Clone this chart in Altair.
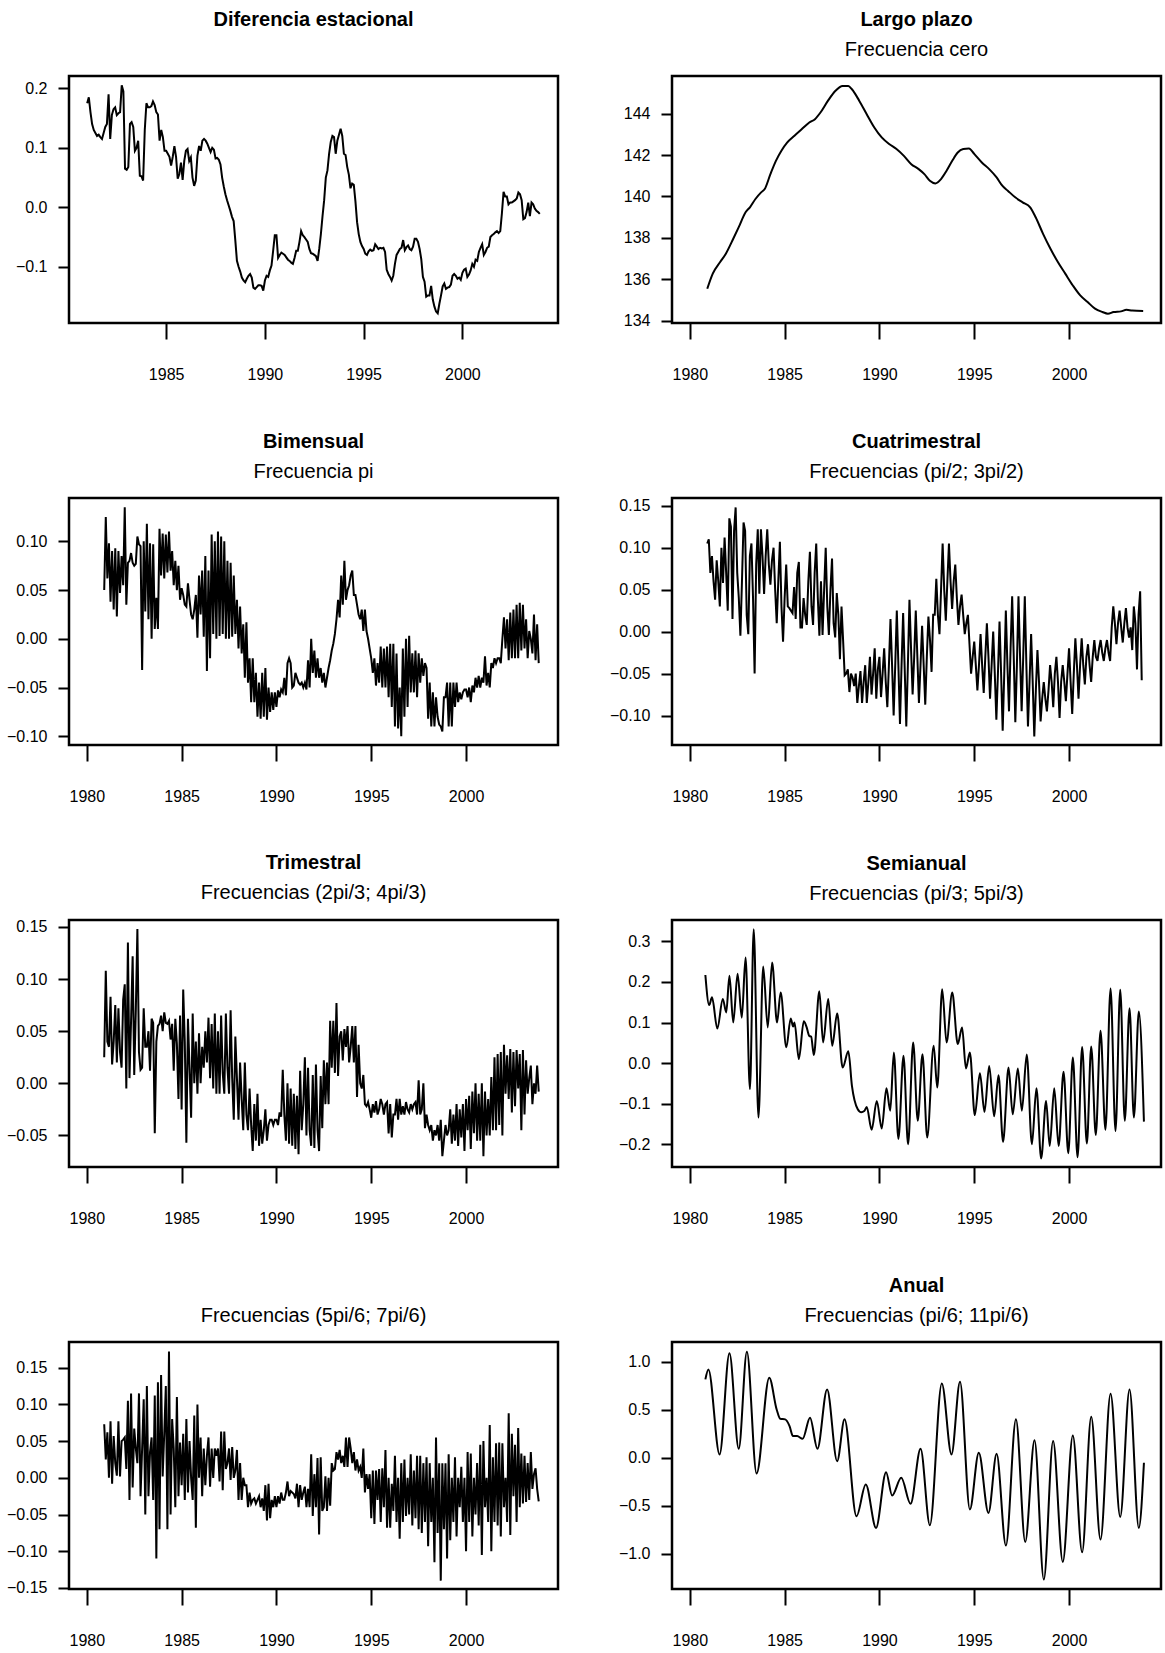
import altair as alt
import pandas as pd

FONT = "Liberation Sans, Arial, Helvetica, sans-serif"

# Monthly series: first observation of each one, in decimal years
START_DIFF = 1981.0
START_FILT = 1980 + 11 / 12

# Seasonal difference of the log series, Jan 1981 - Dec 2003
DIF_EST = [
    0.175, 0.185, 0.160, 0.140, 0.130, 0.125, 0.120, 0.122, 0.118, 0.115, 0.125, 0.135,
    0.140, 0.190, 0.115, 0.155, 0.165, 0.168, 0.155, 0.158, 0.160, 0.205, 0.195, 0.065,
    0.063, 0.068, 0.140, 0.143, 0.135, 0.095, 0.100, 0.112, 0.053, 0.052, 0.045, 0.130,
    0.175, 0.168, 0.168, 0.170, 0.178, 0.172, 0.160, 0.156, 0.112, 0.130, 0.118, 0.095,
    0.095, 0.090, 0.085, 0.070, 0.085, 0.103, 0.085, 0.048, 0.056, 0.075, 0.046, 0.078,
    0.095, 0.098, 0.078, 0.084, 0.050, 0.036, 0.045, 0.087, 0.103, 0.095, 0.112, 0.115,
    0.112, 0.107, 0.100, 0.093, 0.100, 0.097, 0.082, 0.083, 0.080, 0.072, 0.050, 0.035,
    0.022, 0.012, 0.003, -0.006, -0.016, -0.023, -0.055, -0.090, -0.100, -0.108, -0.118, -0.123,
    -0.126, -0.120, -0.115, -0.112, -0.118, -0.135, -0.137, -0.134, -0.131, -0.131, -0.132, -0.140,
    -0.123, -0.115, -0.117, -0.106, -0.098, -0.073, -0.047, -0.047, -0.085, -0.080, -0.076, -0.078,
    -0.080, -0.084, -0.088, -0.090, -0.093, -0.095, -0.085, -0.073, -0.073, -0.058, -0.040, -0.047,
    -0.050, -0.054, -0.058, -0.070, -0.077, -0.078, -0.080, -0.082, -0.090, -0.070, -0.045, -0.015,
    0.012, 0.050, 0.062, 0.090, 0.110, 0.120, 0.118, 0.090, 0.112, 0.122, 0.132, 0.120,
    0.090, 0.088, 0.068, 0.055, 0.032, 0.040, 0.038, 0.010, -0.025, -0.045, -0.058, -0.065,
    -0.070, -0.078, -0.080, -0.074, -0.071, -0.073, -0.072, -0.062, -0.066, -0.070, -0.068, -0.069,
    -0.068, -0.075, -0.105, -0.112, -0.117, -0.123, -0.115, -0.095, -0.080, -0.075, -0.070, -0.068,
    -0.055, -0.072, -0.067, -0.064, -0.070, -0.072, -0.066, -0.053, -0.053, -0.058, -0.070, -0.087,
    -0.117, -0.125, -0.150, -0.148, -0.148, -0.132, -0.155, -0.167, -0.175, -0.178, -0.162, -0.148,
    -0.133, -0.128, -0.137, -0.135, -0.134, -0.130, -0.115, -0.112, -0.115, -0.120, -0.118, -0.122,
    -0.110, -0.105, -0.103, -0.117, -0.113, -0.106, -0.095, -0.100, -0.088, -0.090, -0.075, -0.068,
    -0.062, -0.080, -0.075, -0.068, -0.066, -0.050, -0.047, -0.045, -0.042, -0.040, -0.043, -0.040,
    -0.010, 0.026, 0.018, 0.018, 0.005, 0.008, 0.008, 0.010, 0.012, 0.015, 0.025, 0.022,
    0.012, -0.020, -0.018, -0.008, 0.008, -0.015, 0.008, 0.005, -0.002, -0.006, -0.008, -0.011,
]

# Long-run component (frequency zero): (year, level)
LARGO_PLAZO = [
    (1980.92, 135.55), (1981.21, 136.28), (1981.60, 136.84), (1981.90, 137.24),
    (1982.29, 137.96), (1982.58, 138.52), (1982.94, 139.24), (1983.17, 139.48),
    (1983.46, 139.88), (1983.76, 140.20), (1983.95, 140.36), (1984.25, 141.08),
    (1984.54, 141.72), (1984.83, 142.21), (1985.13, 142.60), (1985.52, 142.93),
    (1985.91, 143.25), (1986.30, 143.57), (1986.60, 143.73), (1986.89, 144.05),
    (1987.28, 144.61), (1987.67, 145.09), (1988.06, 145.33), (1988.36, 145.33),
    (1988.55, 145.17), (1988.94, 144.61), (1989.33, 143.97), (1989.73, 143.33),
    (1990.12, 142.85), (1990.51, 142.53), (1990.90, 142.29), (1991.29, 141.96),
    (1991.68, 141.56), (1992.07, 141.32), (1992.37, 141.08), (1992.66, 140.76),
    (1992.95, 140.63), (1993.25, 140.84), (1993.54, 141.24), (1993.84, 141.72),
    (1994.13, 142.12), (1994.42, 142.29), (1994.72, 142.32), (1995.01, 142.04),
    (1995.40, 141.64), (1995.79, 141.32), (1996.18, 140.92), (1996.48, 140.52),
    (1996.77, 140.28), (1997.16, 139.96), (1997.55, 139.72), (1997.95, 139.48),
    (1998.24, 139.00), (1998.63, 138.20), (1999.02, 137.48), (1999.41, 136.84),
    (1999.80, 136.28), (2000.20, 135.71), (2000.59, 135.23), (2000.98, 134.91),
    (2001.37, 134.59), (2001.76, 134.43), (2002.05, 134.35), (2002.35, 134.43),
    (2002.74, 134.46), (2003.03, 134.54), (2003.33, 134.50), (2003.91, 134.48),
]

# Frequency pi (two-month cycle)
BIMENSUAL = [
    0.050, 0.125, 0.062, 0.098, 0.038, 0.090, 0.030, 0.093, 0.023, 0.090, 0.047, 0.085,
    0.055, 0.135, 0.035, 0.078, 0.080, 0.088, 0.078, 0.075, 0.077, 0.105, 0.097, 0.095,
    -0.032, 0.100, 0.028, 0.118, 0.020, 0.098, 0.000, 0.097, 0.010, 0.042, 0.010, 0.113,
    0.065, 0.108, 0.062, 0.107, 0.068, 0.110, 0.070, 0.090, 0.055, 0.080, 0.050, 0.075,
    0.040, 0.052, 0.045, 0.035, 0.033, 0.057, 0.040, 0.025, 0.020, 0.030, 0.045, 0.001,
    0.065, 0.025, 0.070, 0.002, 0.085, -0.033, 0.070, -0.020, 0.107, 0.005, 0.100, 0.000,
    0.110, 0.003, 0.105, 0.005, 0.100, 0.000, 0.080, 0.000, 0.078, 0.002, 0.065, 0.005,
    0.040, -0.010, 0.033, -0.015, 0.015, -0.040, 0.017, -0.045, -0.020, -0.065, -0.020, -0.065,
    -0.035, -0.080, -0.045, -0.082, -0.035, -0.080, -0.030, -0.083, -0.050, -0.075, -0.055, -0.073,
    -0.055, -0.070, -0.053, -0.060, -0.052, -0.055, -0.040, -0.058, -0.025, -0.020, -0.025, -0.050,
    -0.048, -0.035, -0.040, -0.045, -0.047, -0.045, -0.050, -0.045, -0.052, -0.022, -0.050, 0.000,
    -0.035, -0.012, -0.040, -0.020, -0.040, -0.030, -0.045, -0.035, -0.050, -0.040, -0.030, -0.022,
    -0.012, -0.005, 0.005, 0.020, 0.040, 0.022, 0.065, 0.035, 0.080, 0.040, 0.050, 0.055,
    0.065, 0.070, 0.045, 0.045, 0.035, 0.025, 0.020, 0.030, 0.008, 0.030, 0.008, 0.000,
    -0.010, -0.020, -0.035, -0.020, -0.048, -0.025, -0.045, -0.008, -0.050, -0.010, -0.050, -0.008,
    -0.060, -0.005, -0.070, -0.005, -0.090, -0.015, -0.092, -0.050, -0.100, -0.010, -0.080, 0.000,
    -0.070, 0.003, -0.055, -0.015, -0.055, -0.012, -0.060, -0.015, -0.045, -0.020, -0.038, -0.025,
    -0.030, -0.082, -0.045, -0.090, -0.055, -0.090, -0.060, -0.080, -0.088, -0.090, -0.095, -0.060,
    -0.060, -0.045, -0.090, -0.045, -0.090, -0.045, -0.070, -0.045, -0.065, -0.055, -0.062, -0.055,
    -0.052, -0.052, -0.060, -0.050, -0.065, -0.048, -0.055, -0.040, -0.050, -0.038, -0.050, -0.040,
    -0.045, -0.018, -0.048, -0.035, -0.050, -0.025, -0.030, -0.020, -0.025, -0.020, -0.020, -0.025,
    0.000, 0.022, -0.010, 0.020, -0.022, 0.027, -0.020, 0.030, -0.020, 0.035, -0.020, 0.037,
    -0.012, 0.035, -0.010, 0.020, -0.020, 0.008, 0.000, -0.015, 0.025, -0.022, 0.015, -0.025,
]

# Frequencies pi/2 and 3pi/2 (four-month cycle)
CUATRIMESTRAL = [
    0.105, 0.110, 0.070, 0.090, 0.060, 0.038, 0.085, 0.060, 0.030, 0.100, 0.058, 0.112,
    0.070, 0.025, 0.135, 0.125, 0.015, 0.120, 0.148, 0.070, 0.040, -0.005, 0.060, 0.130,
    0.120, 0.020, -0.003, 0.090, 0.105, 0.040, -0.050, 0.080, 0.122, 0.045, 0.122, 0.090,
    0.045, 0.090, 0.122, 0.080, 0.056, 0.085, 0.100, 0.050, 0.010, 0.060, 0.107, 0.030,
    -0.012, 0.040, 0.080, 0.030, 0.028, 0.025, 0.022, 0.053, 0.015, 0.070, 0.083, 0.005,
    0.005, 0.040, 0.020, 0.008, 0.060, 0.095, 0.030, 0.008, 0.070, 0.105, 0.040, -0.005,
    0.060, -0.004, 0.050, 0.100, 0.030, -0.004, 0.050, 0.087, 0.010, -0.007, 0.046, 0.020,
    -0.033, 0.030, -0.010, -0.052, -0.050, -0.045, -0.072, -0.050, -0.055, -0.065, -0.050, -0.085,
    -0.065, -0.047, -0.085, -0.060, -0.040, -0.085, -0.060, -0.030, -0.075, -0.050, -0.020, -0.080,
    -0.045, -0.030, -0.078, -0.050, -0.020, -0.060, -0.090, -0.040, 0.015, -0.040, -0.100, -0.040,
    0.025, -0.040, -0.110, -0.040, 0.022, -0.045, -0.113, -0.040, 0.038, -0.020, -0.075, -0.030,
    0.025, -0.030, -0.085, -0.040, 0.007, -0.040, -0.087, -0.030, 0.018, -0.010, -0.048, 0.020,
    0.020, 0.063, 0.020, -0.003, 0.050, 0.105, 0.050, 0.013, 0.060, 0.105, 0.060, 0.027,
    0.060, 0.080, 0.040, 0.008, 0.030, 0.044, 0.020, -0.003, 0.010, 0.020, -0.015, -0.050,
    -0.030, -0.012, -0.040, -0.070, -0.040, -0.003, -0.040, -0.073, -0.030, 0.010, -0.030, -0.080,
    -0.040, 0.000, -0.050, -0.105, -0.050, 0.012, -0.050, -0.118, -0.050, 0.025, -0.040, -0.095,
    -0.020, 0.042, -0.030, -0.108, -0.040, 0.042, -0.030, -0.095, -0.030, 0.042, -0.040, -0.113,
    -0.060, -0.003, -0.060, -0.125, -0.070, -0.022, -0.060, -0.107, -0.080, -0.060, -0.080, -0.095,
    -0.070, -0.040, -0.060, -0.090, -0.050, -0.030, -0.060, -0.103, -0.060, -0.040, -0.060, -0.083,
    -0.050, -0.020, -0.060, -0.098, -0.050, -0.008, -0.040, -0.080, -0.040, -0.008, -0.040, -0.063,
    -0.030, -0.015, -0.040, -0.060, -0.030, -0.010, -0.030, -0.035, -0.020, -0.010, -0.025, -0.035,
    -0.020, -0.010, -0.025, -0.035, 0.005, 0.030, 0.010, -0.015, 0.010, 0.025, 0.005, -0.013,
    0.010, 0.028, 0.005, -0.007, 0.005, -0.022, 0.030, 0.010, -0.045, 0.020, 0.048, -0.058,
]

# Frequencies 2pi/3 and 4pi/3 (three-month cycle)
TRIMESTRAL = [
    0.025, 0.108, 0.040, 0.035, 0.083, 0.018, 0.040, 0.075, 0.020, 0.072, 0.030, 0.015,
    0.080, 0.095, -0.005, 0.135, 0.005, 0.060, 0.122, 0.008, 0.070, 0.148, 0.030, 0.013,
    0.015, 0.072, 0.035, 0.035, 0.050, 0.012, 0.062, 0.058, -0.048, 0.040, 0.055, 0.057,
    0.065, 0.050, 0.068, 0.058, 0.057, 0.060, 0.042, 0.057, 0.012, 0.062, 0.038, -0.015,
    0.065, -0.025, 0.090, 0.040, -0.057, 0.062, 0.015, -0.033, 0.067, 0.000, 0.040, -0.010,
    0.048, 0.000, 0.035, 0.015, 0.050, 0.020, 0.063, 0.005, 0.057, -0.005, 0.067, -0.010,
    0.050, -0.010, 0.065, 0.010, -0.010, 0.067, 0.015, -0.010, 0.070, 0.005, -0.035, 0.045,
    0.005, -0.035, 0.020, -0.015, -0.045, 0.020, -0.030, -0.045, -0.005, -0.040, -0.065, -0.020,
    -0.055, -0.010, -0.060, -0.035, -0.058, -0.045, -0.025, -0.055, -0.040, -0.035, -0.035, -0.040,
    -0.035, -0.035, -0.040, -0.028, -0.032, 0.013, -0.030, -0.055, 0.000, -0.058, -0.005, -0.060,
    -0.010, -0.063, -0.012, -0.068, 0.012, -0.045, -0.020, 0.025, -0.050, 0.015, -0.045, -0.060,
    0.008, -0.062, 0.018, -0.045, -0.065, 0.007, -0.043, 0.022, -0.020, 0.020, -0.020, 0.060,
    0.015, 0.060, 0.010, 0.077, 0.007, 0.045, 0.050, 0.022, 0.052, 0.035, 0.055, 0.020,
    0.035, 0.055, 0.020, 0.055, -0.013, 0.037, 0.000, -0.005, 0.008, -0.020, -0.022, -0.018,
    -0.025, -0.033, -0.020, -0.028, -0.017, -0.030, -0.025, -0.015, -0.020, -0.030, -0.020, -0.018,
    -0.048, -0.020, -0.052, -0.030, -0.030, -0.015, -0.035, -0.015, -0.030, -0.022, -0.030, -0.018,
    -0.025, -0.028, -0.020, -0.025, -0.020, -0.018, -0.030, 0.003, -0.030, -0.025, 0.000, -0.043,
    -0.030, -0.040, -0.045, -0.040, -0.055, -0.045, -0.050, -0.040, -0.055, -0.035, -0.070, -0.055,
    -0.040, -0.050, -0.045, -0.025, -0.058, -0.030, -0.055, -0.020, -0.060, -0.025, -0.052, -0.020,
    -0.065, -0.015, -0.045, -0.012, -0.063, -0.008, -0.048, 0.000, -0.055, -0.010, -0.055, 0.000,
    -0.070, -0.008, -0.050, -0.015, -0.050, 0.006, -0.045, 0.025, -0.045, 0.028, -0.040, 0.030,
    -0.050, 0.037, -0.010, 0.027, -0.015, 0.033, -0.028, 0.030, -0.022, 0.032, -0.005, 0.028,
    -0.045, 0.032, -0.030, 0.022, -0.010, 0.005, 0.017, -0.020, 0.000, -0.010, 0.017, -0.008,
]

# Frequencies pi/3 and 5pi/3 (six-month cycle): turning points (year, value)
SEMIANUAL = [
    (1980.82, 0.217), (1981.02, 0.143), (1981.17, 0.162), (1981.45, 0.085), (1981.74, 0.158),
    (1981.92, 0.125), (1982.09, 0.215), (1982.29, 0.100), (1982.52, 0.220), (1982.74, 0.112),
    (1982.94, 0.260), (1983.17, -0.064), (1983.37, 0.330), (1983.62, -0.134), (1983.87, 0.238),
    (1984.11, 0.088), (1984.34, 0.248), (1984.60, 0.100), (1984.79, 0.174), (1985.09, 0.039),
    (1985.32, 0.110), (1985.45, 0.090), (1985.52, 0.100), (1985.75, 0.010), (1986.01, 0.103),
    (1986.15, 0.090), (1986.30, 0.067), (1986.40, 0.065), (1986.54, 0.020), (1986.83, 0.177),
    (1987.03, 0.051), (1987.30, 0.158), (1987.51, 0.043), (1987.77, 0.122), (1988.06, -0.011),
    (1988.36, 0.029), (1988.55, -0.056), (1988.85, -0.113), (1989.04, -0.121), (1989.20, -0.118),
    (1989.33, -0.108), (1989.59, -0.164), (1989.86, -0.093), (1990.12, -0.161), (1990.37, -0.062),
    (1990.57, -0.117), (1990.76, 0.026), (1991.00, -0.187), (1991.27, 0.018), (1991.51, -0.200),
    (1991.78, 0.051), (1992.02, -0.142), (1992.27, 0.022), (1992.52, -0.183), (1992.86, 0.043),
    (1993.05, -0.060), (1993.31, 0.182), (1993.54, 0.051), (1993.84, 0.174), (1994.13, 0.047),
    (1994.36, 0.088), (1994.56, -0.013), (1994.77, 0.026), (1995.03, -0.128), (1995.30, -0.025),
    (1995.54, -0.120), (1995.79, -0.007), (1996.05, -0.131), (1996.28, -0.030), (1996.52, -0.194),
    (1996.81, -0.011), (1997.03, -0.126), (1997.30, -0.013), (1997.51, -0.117), (1997.77, 0.021),
    (1998.04, -0.200), (1998.28, -0.062), (1998.53, -0.235), (1998.79, -0.093), (1998.98, -0.204),
    (1999.22, -0.062), (1999.45, -0.204), (1999.71, -0.021), (1999.96, -0.222), (2000.20, 0.014),
    (2000.45, -0.232), (2000.69, 0.040), (2000.94, -0.198), (2001.17, 0.041), (2001.41, -0.177),
    (2001.66, 0.080), (2001.92, -0.164), (2002.19, 0.184), (2002.45, -0.167), (2002.70, 0.181),
    (2002.94, -0.142), (2003.19, 0.135), (2003.42, -0.134), (2003.68, 0.127), (2003.95, -0.144),
]

# Frequencies 5pi/6 and 7pi/6
CINCO_SEXTOS = [
    0.073, 0.025, 0.062, 0.000, 0.077, -0.008, 0.057, 0.020, 0.003, 0.077, 0.002, 0.050,
    0.052, 0.055, 0.012, 0.105, -0.030, 0.115, -0.013, 0.067, 0.040, 0.020, 0.115, -0.025,
    0.040, 0.107, -0.050, 0.125, -0.025, 0.035, 0.055, -0.030, 0.112, -0.110, 0.130, -0.070,
    0.140, 0.002, 0.060, 0.125, -0.070, 0.172, -0.050, 0.080, 0.040, -0.040, 0.110, -0.025,
    0.048, -0.010, 0.060, -0.030, 0.080, -0.020, 0.050, 0.000, -0.030, 0.085, -0.068, 0.100,
    0.000, 0.055, -0.025, 0.040, -0.010, 0.030, 0.055, -0.012, 0.040, 0.000, 0.040, 0.030,
    0.040, -0.005, 0.063, -0.017, 0.063, 0.012, 0.020, 0.040, -0.003, 0.042, 0.000, 0.010,
    0.038, -0.030, 0.020, -0.030, 0.000, -0.010, -0.010, -0.040, -0.020, -0.035, -0.030, -0.028,
    -0.035, -0.030, -0.025, -0.040, -0.028, -0.045, -0.010, -0.058, -0.008, -0.055, -0.030, -0.040,
    -0.025, -0.040, -0.025, -0.035, -0.020, -0.030, -0.030, -0.020, -0.005, -0.025, -0.018, -0.020,
    -0.022, -0.028, -0.008, -0.040, -0.010, -0.030, -0.020, -0.012, -0.040, -0.015, -0.040, 0.032,
    -0.052, 0.005, -0.040, 0.027, -0.077, 0.028, -0.045, -0.040, 0.002, -0.045, 0.000, -0.038,
    0.020, 0.010, 0.012, 0.035, 0.025, 0.038, 0.020, 0.030, 0.015, 0.055, 0.015, 0.055,
    0.040, 0.020, 0.035, 0.010, 0.025, 0.010, 0.015, 0.000, 0.040, -0.020, 0.005, -0.015,
    0.005, -0.055, 0.010, -0.063, 0.010, -0.030, 0.012, -0.060, 0.013, -0.040, 0.038, -0.068,
    0.000, -0.068, -0.008, -0.045, 0.030, -0.060, 0.000, -0.083, 0.020, -0.060, 0.025, -0.052,
    0.000, -0.050, 0.032, -0.065, 0.010, -0.055, 0.030, -0.070, 0.030, -0.075, 0.020, -0.060,
    0.028, -0.093, 0.020, -0.060, 0.000, -0.115, 0.055, -0.075, 0.020, -0.140, 0.020, -0.070,
    0.020, -0.110, 0.032, -0.085, 0.000, -0.060, 0.028, -0.080, 0.000, -0.040, 0.015, -0.060,
    0.000, -0.100, 0.035, -0.060, 0.033, -0.080, 0.000, -0.050, 0.020, -0.065, 0.045, -0.105,
    0.050, -0.040, 0.000, -0.060, 0.072, -0.100, 0.028, -0.060, 0.047, -0.065, 0.048, -0.080,
    0.047, -0.040, 0.000, -0.060, 0.088, -0.078, 0.060, -0.025, 0.045, -0.060, 0.068, -0.040,
    0.033, -0.035, 0.030, -0.033, 0.020, -0.030, 0.035, -0.015, 0.005, 0.013, -0.015, -0.032,
]

# Frequencies pi/6 and 11pi/6 (annual cycle): turning points (year, value)
ANUAL = [
    (1980.82, 0.816), (1980.98, 0.920), (1981.57, 0.035), (1982.09, 1.087), (1982.58, 0.094),
    (1983.01, 1.104), (1983.52, -0.163), (1984.19, 0.833), (1984.58, 0.503), (1984.77, 0.406),
    (1985.03, 0.400), (1985.26, 0.330), (1985.44, 0.226), (1985.66, 0.226), (1985.95, 0.198),
    (1986.34, 0.417), (1986.73, 0.094), (1987.24, 0.712), (1987.77, -0.035), (1988.16, 0.400),
    (1988.79, -0.608), (1989.28, -0.278), (1989.82, -0.729), (1990.35, -0.149), (1990.67, -0.392),
    (1991.15, -0.208), (1991.64, -0.479), (1992.17, 0.094), (1992.66, -0.701), (1993.29, 0.774),
    (1993.80, 0.035), (1994.25, 0.792), (1994.77, -0.538), (1995.24, 0.052), (1995.75, -0.573),
    (1996.18, 0.042), (1996.67, -0.913), (1997.20, 0.400), (1997.69, -0.875), (1998.18, 0.184),
    (1998.67, -1.267), (1999.16, 0.174), (1999.67, -1.083), (2000.20, 0.233), (2000.69, -0.983),
    (2001.17, 0.427), (2001.66, -0.851), (2002.19, 0.667), (2002.70, -0.615), (2003.19, 0.712),
    (2003.68, -0.729), (2003.95, -0.052),
]

YEAR_TICKS = [1980, 1985, 1990, 1995, 2000]
X_DOMAIN = [1979.06, 2004.85]
X_DOMAIN_DIFF = [1980.08, 2004.84]
PANEL_W, PANEL_H = 489, 247


def monthly(values, start):
    return pd.DataFrame({"t": [start + i / 12 for i in range(len(values))], "v": values})


def points(pairs):
    return pd.DataFrame(pairs, columns=["t", "v"])


def panel(df, title, subtitle, y_domain, y_ticks, y_fmt,
          x_domain=X_DOMAIN, x_ticks=YEAR_TICKS, interp="linear"):
    return (
        alt.Chart(df)
        .mark_line(color="black", strokeWidth=2, interpolate=interp, clip=True)
        .encode(
            x=alt.X("t:Q", title=None,
                    scale=alt.Scale(domain=x_domain, nice=False, zero=False),
                    axis=alt.Axis(values=x_ticks, format="d")),
            y=alt.Y("v:Q", title=None,
                    scale=alt.Scale(domain=y_domain, nice=False, zero=False),
                    axis=alt.Axis(values=y_ticks, format=y_fmt)),
        )
        .properties(width=PANEL_W, height=PANEL_H,
                    title=alt.TitleParams(text=title, subtitle=subtitle))
    )


p1 = panel(monthly(DIF_EST, START_DIFF), "Diferencia estacional", " ",
           [-0.1944, 0.2207], [-0.1, 0.0, 0.1, 0.2], ".1f",
           x_domain=X_DOMAIN_DIFF, x_ticks=[1985, 1990, 1995, 2000])
p2 = panel(points(LARGO_PLAZO), "Largo plazo", "Frecuencia cero",
           [133.90, 145.81], [134, 136, 138, 140, 142, 144], "d", interp="monotone")
p3 = panel(monthly(BIMENSUAL, START_FILT), "Bimensual", "Frecuencia pi",
           [-0.109, 0.1445], [-0.10, -0.05, 0.0, 0.05, 0.10], ".2f")
p4 = panel(monthly(CUATRIMESTRAL, START_FILT), "Cuatrimestral", "Frecuencias (pi/2; 3pi/2)",
           [-0.1351, 0.1592], [-0.10, -0.05, 0.0, 0.05, 0.10, 0.15], ".2f")
p5 = panel(monthly(TRIMESTRAL, START_FILT), "Trimestral", "Frecuencias (2pi/3; 4pi/3)",
           [-0.0803, 0.1567], [-0.05, 0.0, 0.05, 0.10, 0.15], ".2f")
p6 = panel(points(SEMIANUAL), "Semianual", "Frecuencias (pi/3; 5pi/3)",
           [-0.2558, 0.3525], [-0.2, -0.1, 0.0, 0.1, 0.2, 0.3], ".1f", interp="monotone")
p7 = panel(monthly(CINCO_SEXTOS, START_FILT), " ", "Frecuencias (5pi/6; 7pi/6)",
           [-0.1514, 0.185], [-0.15, -0.10, -0.05, 0.0, 0.05, 0.10, 0.15], ".2f")
p8 = panel(points(ANUAL), "Anual", "Frecuencias (pi/6; 11pi/6)",
           [-1.365, 1.205], [-1.0, -0.5, 0.0, 0.5, 1.0], ".1f", interp="monotone")

chart = (
    alt.concat(p1, p2, p3, p4, p5, p6, p7, p8, columns=2,
               spacing={"row": 175, "column": 114}, bounds="flush")
    .properties(padding={"left": 5, "top": 8, "right": 0, "bottom": 0},
                background="white")
    .configure_view(stroke="black", strokeWidth=2.5)
    .configure_axis(domain=False, grid=False, tickColor="black", tickWidth=2,
                    labelFont=FONT, labelFontSize=16, labelColor="black",
                    labelFlush=False, labelOverlap=False)
    .configure_axisX(tickSize=16, labelPadding=27)
    .configure_axisY(tickSize=11, labelPadding=11)
    .configure_title(font=FONT, fontSize=20, fontWeight="bold", color="black",
                     subtitleFont=FONT, subtitleFontSize=20, subtitleColor="black",
                     subtitleFontWeight="normal", anchor="middle",
                     offset=16, subtitlePadding=10)
)

chart.save("out.html", embed_options={"renderer": "svg", "actions": False})
